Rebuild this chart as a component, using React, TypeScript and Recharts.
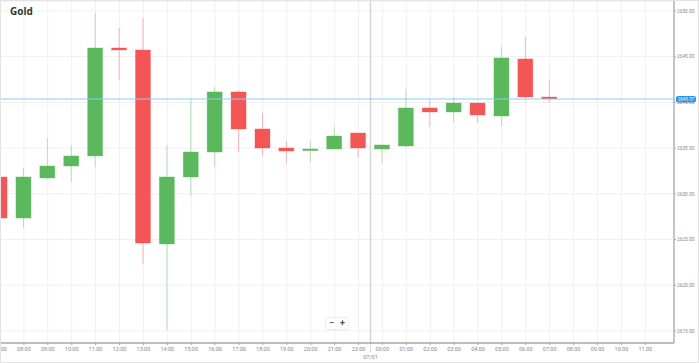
import React from 'react'
import {
  ComposedChart,
  Bar,
  XAxis,
  YAxis,
  CartesianGrid,
  ReferenceLine,
} from 'recharts'

// hourly slots, 22:00 is the daily break so it is skipped
const hours = [
  '07:00', '08:00', '09:00', '10:00', '11:00', '12:00', '13:00', '14:00',
  '15:00', '16:00', '17:00', '18:00', '19:00', '20:00', '21:00', '23:00',
  '00:00', '01:00', '02:00', '03:00', '04:00', '05:00', '06:00', '07:00',
  '08:00', '09:00', '10:00', '11:00',
]
const opens = [
  2631.84, 2627.35, 2631.73, 2633.04, 2634.14, 2645.95, 2645.73, 2624.51,
  2631.84, 2634.57, 2641.14, 2637.09, 2635.01, 2634.79, 2634.9, 2636.65,
  2634.9, 2635.23, 2639.39, 2638.95, 2639.93, 2638.51, 2644.75, 2640.59,
]
const closes = [
  2627.35, 2631.84, 2633.04, 2634.14, 2645.95, 2645.73, 2624.62, 2631.84,
  2634.57, 2641.14, 2637.09, 2635.01, 2634.68, 2634.9, 2636.32, 2635.01,
  2635.34, 2639.39, 2638.95, 2639.93, 2638.62, 2644.86, 2640.59, 2640.37,
]
const highs = [
  2632.0, 2632.82, 2636.1, 2635.34, 2649.78, 2648.14, 2649.23, 2635.34,
  2640.37, 2641.68, 2641.36, 2638.84, 2635.78, 2635.78, 2637.31, 2636.7,
  2635.4, 2641.47, 2640.37, 2640.59, 2640.05, 2646.06, 2647.16, 2642.45,
]
const lows = [
  2627.2, 2626.26, 2631.6, 2631.29, 2632.93, 2642.45, 2622.32, 2615.1,
  2629.76, 2632.93, 2634.57, 2634.14, 2633.37, 2633.48, 2634.85, 2633.92,
  2633.37, 2635.1, 2637.31, 2637.86, 2637.75, 2637.42, 2640.26, 2639.93,
]
const priceTicks = [2615, 2620, 2625, 2630, 2635, 2640, 2645, 2650]
const lastPrice = 2640.37
const dayLabel = '07/01'

const GREEN = '#5cb85c'
const RED = '#f45656'

const data = hours.map((h, i) => ({
  i,
  hour: h,
  open: opens[i],
  close: closes[i],
  high: highs[i],
  low: lows[i],
  range: i < opens.length ? [lows[i], highs[i]] : null,
}))

const Candle = (props: any) => {
  const { x, y, width, height } = props
  const p = props.payload || props
  if (p.open == null || x == null) return null
  const top = Math.min(y, y + height)
  const bottom = Math.max(y, y + height)
  const span = p.high - p.low || 1
  const py = (v: number) => top + ((p.high - v) / span) * (bottom - top)
  const up = p.close >= p.open
  const color = up ? GREEN : RED
  const cx = x + width / 2
  const bTop = py(Math.max(p.open, p.close))
  let bH = py(Math.min(p.open, p.close)) - bTop
  if (bH < 1.6) bH = 1.6
  return (
    <g>
      <line x1={cx} x2={cx} y1={top} y2={bottom} stroke={color} strokeOpacity={0.4} strokeWidth={1} />
      <rect x={x} y={bTop} width={width} height={bH} fill={color} stroke={color} strokeOpacity={0.35} strokeWidth={1} />
    </g>
  )
}

const PriceLabel = (props: any) => {
  const vb = props.viewBox || {}
  const x = (vb.x || 0) + (vb.width || 0) + 2
  const y = vb.y || 0
  return (
    <g>
      <rect x={x} y={y - 3} width={20} height={6.5} rx={2} fill="#2196f3" />
      <text x={x + 10} y={y + 1.8} textAnchor="middle" fontSize={4.6} fill="#fff" fontFamily="Roboto, sans-serif">
        {lastPrice.toFixed(2)}
      </text>
    </g>
  )
}

const DayLabel = (props: any) => {
  const vb = props.viewBox || {}
  const x = vb.x || 0
  const bottom = (vb.y || 0) + (vb.height || 0)
  return (
    <g>
      <line x1={x} x2={x} y1={bottom} y2={bottom + 9} stroke="#bbb" strokeDasharray="1 1" />
      <text x={x} y={bottom + 16} textAnchor="middle" fontSize={5.5} fill="#888" fontFamily="Roboto, sans-serif">
        {dayLabel}
      </text>
    </g>
  )
}

const App = () => {
  return (
    <div style={{ position: 'absolute', left: 0, top: 0, width: 699, height: 363, background: '#fff' }}>
      <ComposedChart
        width={699}
        height={363}
        data={data}
        margin={{ top: 1, right: 0, bottom: 2, left: 0 }}
      >
        <CartesianGrid stroke="#f0f0f0" />
        <XAxis
          dataKey="i"
          type="number"
          domain={[0, 28.2]}
          allowDataOverflow
          ticks={hours.map((_, i) => i)}
          interval={0}
          tickFormatter={(v: number) => hours[v]}
          height={18}
          tick={{ fontSize: 5.5, fill: '#888', fontFamily: 'Roboto, sans-serif' }}
          tickSize={2}
          tickMargin={2}
          axisLine={{ stroke: '#aaa', strokeWidth: 1.3 }}
          tickLine={{ stroke: '#aaa' }}
        />
        <YAxis
          orientation="right"
          type="number"
          domain={[2613.68, 2651.09]}
          allowDataOverflow
          ticks={priceTicks}
          interval={0}
          tickFormatter={(v: number) => v.toFixed(2)}
          width={25}
          tick={{ fontSize: 4.8, fill: '#888', fontFamily: 'Roboto, sans-serif' }}
          tickSize={2}
          tickMargin={1}
          axisLine={{ stroke: '#aaa', strokeWidth: 1.3 }}
          tickLine={{ stroke: '#aaa' }}
        />
        <ReferenceLine x={15.5} stroke="#d6d6d6" strokeWidth={1.5} label={<DayLabel />} />
        <Bar dataKey="range" barSize={15} shape={<Candle />} isAnimationActive={false} />
        <ReferenceLine y={lastPrice} stroke="#8fcbf3" strokeWidth={1} label={<PriceLabel />} />
      </ComposedChart>
      <div
        style={{
          position: 'absolute', left: 10, top: 4, fontSize: 10, fontWeight: 700,
          color: '#333', fontFamily: '"Open Sans", sans-serif',
        }}
      >
        Gold
      </div>
      <div
        style={{
          position: 'absolute', left: 326, top: 318, width: 22, height: 11,
          background: '#fff', boxShadow: '0 0 2px rgba(0,0,0,0.2)', display: 'flex',
          justifyContent: 'space-around', alignItems: 'center', fontSize: 9,
          fontWeight: 700, color: '#555', fontFamily: 'Roboto, sans-serif', lineHeight: '11px',
        }}
      >
        <span>−</span>
        <span>+</span>
      </div>
      <div
        style={{
          position: 'absolute', left: 0, top: 0, width: 699, height: 363,
          boxSizing: 'border-box', border: '1px solid #e3e3e3', pointerEvents: 'none',
        }}
      />
    </div>
  )
}

export default App
